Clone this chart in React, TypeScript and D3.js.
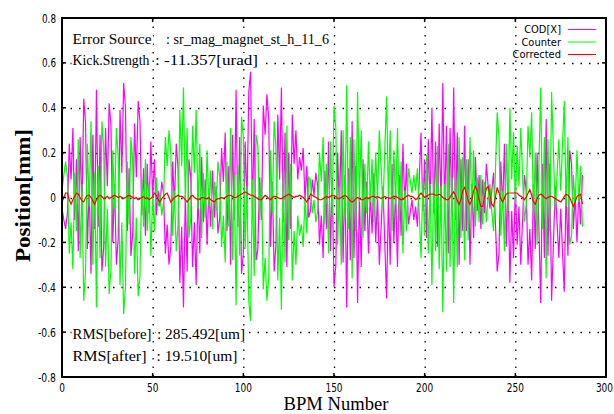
import React, { useLayoutEffect, useRef, useState } from "react";
import * as d3 from "d3";

// COD[X] before correction, one value per BPM (mm)
const codX = [
  -0.05, -0.10, -0.14, -0.07, 0.24, 0.08, 0.31, -0.10, 0.17, -0.24,
  0.27, -0.07, 0.44, 0.33, -0.23, 0.05, -0.34, 0.28, -0.14, 0.48,
  -0.13, 0.28, -0.33, -0.22, 0.31, 0.05, 0.42, 0.32, -0.20, 0.06,
  -0.30, -0.18, 0.39, 0.11, 0.51, 0.40, -0.15, 0.13, -0.26, -0.16,
  0.33, 0.09, 0.43, 0.34, -0.08, 0.13, -0.17, 0.15, -0.07, 0.25,
  0.00, 0.17, -0.08, 0.03, -0.04, 0.07, 0.02, -0.25, -0.12, -0.30,
  -0.22, 0.16, -0.03, 0.24, 0.13, -0.38, -0.13, -0.49, 0.01, -0.33,
  0.17, 0.09, -0.31, -0.11, -0.39, 0.04, -0.25, 0.18, -0.11, 0.08,
  -0.21, 0.04, -0.13, 0.12, -0.09, 0.05, -0.16, -0.09, 0.22, 0.07,
  0.29, -0.15, 0.14, -0.30, 0.28, -0.10, 0.48, -0.13, 0.27, -0.34,
  -0.25, 0.25, -0.03, 0.47, 0.56, -0.07, 0.35, -0.28, -0.23, 0.09,
  -0.10, 0.41, 0.28, 0.46, 0.35, -0.22, 0.07, -0.33, -0.21, 0.37,
  0.08, 0.49, -0.11, 0.29, -0.31, 0.20, -0.14, 0.37, 0.15, 0.30,
  0.08, 0.18, 0.12, 0.22, -0.01, 0.14, -0.09, -0.06, 0.08, 0.01,
  0.11, 0.05, -0.21, -0.08, -0.27, 0.12, -0.14, 0.25, -0.24, 0.09,
  -0.40, -0.30, 0.20, -0.05, 0.30, -0.29, 0.10, -0.49, 0.13, -0.28,
  0.34, -0.27, 0.14, -0.47, 0.01, -0.31, 0.17, -0.15, 0.07, -0.25,
  0.02, -0.16, 0.11, -0.20, 0.01, -0.30, -0.13, 0.05, -0.20, -0.45,
  0.00, -0.30, 0.15, -0.20, 0.03, -0.31, 0.10, -0.17, 0.24, -0.03,
  0.15, -0.12, -0.07, -0.01, -0.10, -0.04, -0.13, 0.08, 0.29, -0.06,
  0.17, -0.18, 0.26, -0.04, 0.40, -0.07, 0.25, -0.22, 0.33, -0.04,
  0.51, -0.06, 0.32, -0.25, 0.31, -0.07, 0.49, -0.10, 0.29, -0.30,
  0.17, -0.15, 0.32, -0.15, 0.17, -0.30, 0.06, -0.18, 0.18, -0.06,
  0.10, -0.14, 0.08, -0.07, 0.15, 0.05, -0.05, 0.03, 0.11, -0.11,
  -0.33, -0.25, 0.16, -0.05, 0.24, -0.22, 0.08, -0.38, -0.06, -0.27,
  0.05, -0.21, -0.04, -0.30, -0.10, 0.10, 0.03, -0.30, -0.14, -0.37,
  0.06, -0.23, 0.20, -0.14, -0.47, 0.15, -0.27, 0.35, -0.26, 0.15,
  -0.46, -0.21, 0.05, -0.11, -0.27, -0.05, -0.24, -0.42, 0.05, -0.26,
  0.21, 0.15, -0.14, 0.01, -0.20, 0.03, -0.12, 0.10,
];

// counter orbit from the steering correction
const counter = [
  0.03, 0.10, 0.16, 0.09, -0.25, -0.11, -0.32, 0.11, -0.15, 0.26,
  -0.27, 0.06, -0.46, -0.33, 0.24, -0.04, 0.34, -0.30, 0.11, -0.49,
  0.14, -0.27, 0.34, 0.22, -0.31, -0.05, -0.43, -0.32, 0.21, -0.05,
  0.31, 0.18, -0.39, -0.11, -0.52, -0.40, 0.16, -0.12, 0.27, 0.16,
  -0.34, -0.09, -0.44, -0.35, 0.08, -0.13, 0.17, -0.15, 0.06, -0.26,
  0.01, -0.15, 0.09, -0.04, 0.02, -0.08, -0.02, 0.27, 0.14, 0.30,
  0.20, -0.17, 0.03, -0.24, -0.12, 0.39, 0.14, 0.49, -0.02, 0.31,
  -0.18, -0.09, 0.32, 0.11, 0.39, -0.05, 0.24, -0.18, 0.11, -0.09,
  0.21, -0.04, 0.12, -0.14, 0.07, -0.06, 0.16, 0.09, -0.22, -0.08,
  -0.29, 0.16, -0.13, 0.31, -0.28, 0.10, -0.48, 0.14, -0.26, 0.36,
  0.27, -0.23, 0.05, -0.46, -0.55, 0.08, -0.35, 0.28, 0.23, -0.10,
  0.09, -0.41, -0.27, -0.46, -0.36, 0.21, -0.07, 0.34, 0.22, -0.37,
  -0.09, -0.50, 0.11, -0.29, 0.32, -0.19, 0.15, -0.37, -0.15, -0.30,
  -0.08, -0.17, -0.12, -0.22, 0.00, -0.16, 0.09, 0.08, -0.07, -0.01,
  -0.11, -0.06, 0.20, 0.07, 0.27, -0.12, 0.15, -0.25, 0.25, -0.08,
  0.41, 0.31, -0.21, 0.05, -0.30, 0.30, -0.09, 0.50, -0.14, 0.27,
  -0.36, 0.26, -0.15, 0.47, -0.02, 0.30, -0.18, 0.15, -0.07, 0.25,
  -0.02, 0.17, -0.11, 0.20, -0.01, 0.30, 0.13, -0.05, 0.21, 0.45,
  0.00, 0.30, -0.15, 0.21, -0.03, 0.31, -0.11, 0.16, -0.25, 0.03,
  -0.15, 0.13, 0.08, 0.02, 0.10, 0.03, 0.13, -0.07, -0.27, 0.07,
  -0.17, 0.19, -0.25, 0.06, -0.39, 0.09, -0.24, 0.23, -0.32, 0.05,
  -0.51, 0.06, -0.33, 0.24, -0.31, 0.09, -0.47, 0.11, -0.31, 0.27,
  -0.18, 0.18, -0.28, 0.17, -0.19, 0.27, -0.07, 0.21, -0.13, 0.09,
  -0.11, 0.10, -0.12, 0.07, -0.11, 0.00, 0.06, -0.06, -0.15, 0.11,
  0.38, 0.27, -0.17, 0.03, -0.24, 0.24, -0.06, 0.40, 0.08, 0.29,
  -0.03, 0.23, 0.05, 0.31, 0.10, -0.11, -0.03, 0.32, 0.18, 0.38,
  -0.08, 0.20, -0.21, 0.15, 0.49, -0.14, 0.27, -0.36, 0.26, -0.15,
  0.47, 0.21, -0.06, 0.10, 0.26, 0.03, 0.23, 0.43, -0.04, 0.27,
  -0.21, -0.17, 0.10, -0.03, 0.21, -0.02, 0.14, -0.13,
];

// residual orbit after correction
const corrected = [
  -0.02, 0.0, 0.02, 0.02, -0.01, -0.03, -0.01, 0.005, 0.02, 0.015,
  0.0, -0.015, -0.02, 0.0, 0.01, 0.01, 0.0, -0.015, -0.03, -0.01,
  0.005, 0.01, 0.005, -0.005, 0.0, 0.005, -0.005, 0.0, 0.005, 0.01,
  0.005, 0.0, 0.005, 0.0, -0.005, 0.0, 0.005, 0.01, 0.005, 0.0,
  -0.005, 0.0, -0.01, -0.005, 0.0, 0.005, -0.005, 0.0, -0.01, -0.005,
  0.005, 0.02, 0.01, -0.01, -0.02, -0.005, 0.005, 0.015, 0.02, 0.0,
  -0.02, -0.01, 0.0, 0.005, 0.01, 0.005, 0.005, 0.0, -0.01, -0.02,
  -0.01, 0.005, 0.01, 0.0, -0.005, -0.01, -0.01, 0.0, 0.0, -0.005,
  -0.005, 0.0, -0.01, -0.015, -0.02, -0.01, -0.005, -0.005, 0.0, -0.005,
  0.0, 0.005, 0.01, 0.01, 0.005, 0.0, 0.0, 0.005, 0.01, 0.015,
  0.02, 0.025, 0.02, 0.015, 0.01, 0.01, 0.005, 0.0, -0.005, -0.01,
  -0.01, 0.0, 0.01, 0.005, -0.005, -0.01, 0.0, 0.005, 0.005, 0.0,
  -0.005, -0.005, 0.0, 0.005, 0.01, 0.015, 0.01, 0.005, 0.0, 0.005,
  0.005, 0.01, 0.005, 0.0, -0.01, -0.02, -0.005, 0.015, 0.01, 0.005,
  0.0, -0.005, -0.01, -0.01, -0.005, 0.0, 0.005, 0.0, 0.005, 0.01,
  0.01, 0.005, -0.005, -0.005, 0.0, 0.005, 0.01, 0.005, -0.005, -0.015,
  -0.02, -0.015, -0.005, 0.0, -0.005, -0.01, -0.01, -0.005, 0.0, -0.005,
  0.0, 0.005, 0.005, 0.0, 0.005, 0.0, -0.005, 0.0, 0.005, 0.0,
  0.0, -0.005, 0.0, 0.005, 0.005, 0.0, -0.005, -0.01, -0.01, 0.0,
  0.005, 0.01, 0.005, 0.005, 0.0, -0.01, -0.005, 0.01, 0.02, 0.01,
  0.0, 0.005, 0.01, 0.015, 0.015, 0.015, 0.01, 0.01, 0.015, 0.01,
  0.0, -0.005, -0.01, -0.01, 0.0, 0.015, 0.025, 0.01, -0.015, -0.03,
  -0.01, 0.03, 0.045, 0.02, -0.015, -0.03, -0.01, 0.03, 0.05, 0.03,
  -0.01, -0.04, -0.04, 0.0, 0.04, 0.05, 0.01, -0.03, -0.04, 0.0,
  0.045, 0.02, -0.005, -0.02, 0.0, 0.015, 0.02, 0.02, 0.02, 0.02,
  0.02, 0.02, 0.01, 0.005, 0.0, -0.01, 0.0, 0.02, 0.035, 0.01,
  -0.02, -0.03, -0.005, 0.01, 0.015, 0.01, 0.0, -0.005, 0.0, 0.005,
  0.005, 0.0, -0.005, -0.01, -0.015, -0.02, -0.01, 0.005, 0.015, 0.01,
  0.0, -0.02, -0.04, -0.02, 0.005, 0.01, 0.015, -0.03,
];

const xTicks = [0, 50, 100, 150, 200, 250, 300];
const yTicks = [-0.8, -0.6, -0.4, -0.2, 0, 0.2, 0.4, 0.6, 0.8];
const seriesNames = ["COD[X]", "Counter", "Corrected"];

const infoTop = [
  ["Error Source", ": sr_mag_magnet_st_h_11_6"],
  ["Kick.Strength", ": -11.357[urad]"],
];
const infoBottom = [
  ["RMS[before]", ": 285.492[um]"],
  ["RMS[after]", ": 19.510[um]"],
];

const W = 614;
const H = 414;
const colors = ["#ff00ff", "#00ff00", "#ff0000"];
const serif = "'Liberation Serif', 'Times New Roman', serif";
const narrow = "'DejaVu Sans Condensed', 'Liberation Sans Narrow', 'DejaVu Sans', sans-serif";

// where each info text piece starts and how wide it is in the reference
const topLayout = [
  [[72.5, 79], [166, 163]],
  [[72.5, 77], [155, 103]],
];
const bottomLayout = [
  [[72.5, 79], [157, 88]],
  [[72.5, 74], [156.5, 81]],
];

// narrow bitmap-like tick font: squeeze each label to the reference width
const tickLen = (s) => {
  let w = 0;
  for (const c of s) w += c === "." ? 2.6 : c === "-" ? 4 : 5.7;
  return w;
};

// text with an opaque white box behind it (hides the grid dots)
const BoxText = ({ x, y, text, size, len }) => {
  const ref = useRef(null);
  const [bb, setBb] = useState(null);
  useLayoutEffect(() => {
    if (ref.current) {
      const b = ref.current.getBBox();
      setBb({ x: b.x, y: b.y, w: b.width, h: b.height });
    }
  }, [text]);
  return (
    <g>
      {bb && <rect x={bb.x - 1} y={bb.y + 1} width={bb.w + 2} height={bb.h - 1} fill="#fff" />}
      <text
        ref={ref}
        x={x}
        y={y}
        fontFamily={serif}
        fontSize={size}
        fill="#000"
        textLength={len}
        lengthAdjust="spacingAndGlyphs"
      >
        {text}
      </text>
    </g>
  );
};

export default function App() {
  const x = d3.scaleLinear().domain([0, 300]).range([62, 606]);
  const y = d3.scaleLinear().domain([-0.8, 0.8]).range([377, 18]);
  const [x0, x1] = x.range();
  const [y0, y1] = y.range();

  const line = d3
    .line<number>()
    .x((d, i) => x(i))
    .y((d) => y(d));

  const series = [codX, counter, corrected];
  const yLabel = (t) => (t === 0 ? "0" : t.toFixed(1));

  return (
    <svg
      width={W}
      height={H}
      style={{ position: "absolute", left: 0, top: 0, background: "#fff" }}
    >
      <rect x={0} y={0} width={W} height={H} fill="#fff" />

      {/* grid */}
      <g stroke="#000" strokeWidth={1.3} strokeDasharray="1.5,7">
        {xTicks.slice(1, -1).map((t) => (
          <line key={"gx" + t} x1={x(t) + 0.5} x2={x(t) + 0.5} y1={y1} y2={y0} />
        ))}
        {yTicks.slice(1, -1).map((t) => (
          <line key={"gy" + t} x1={x0} x2={x1} y1={Math.round(y(t)) + 0.5} y2={Math.round(y(t)) + 0.5} />
        ))}
      </g>

      {/* info text */}
      {infoTop.map((row, i) => (
        <g key={"it" + i}>
          {row.map((s, j) => (
            <BoxText key={j} x={topLayout[i][j][0]} y={44 + i * 21} text={s} size={15} len={topLayout[i][j][1]} />
          ))}
        </g>
      ))}
      {infoBottom.map((row, i) => (
        <g key={"ib" + i}>
          {row.map((s, j) => (
            <BoxText key={j} x={bottomLayout[i][j][0]} y={339 + i * 22} text={s} size={15} len={bottomLayout[i][j][1]} />
          ))}
        </g>
      ))}

      {/* data */}
      {series.map((s, k) => (
        <path key={"s" + k} d={line(s)} fill="none" stroke={colors[k]} strokeWidth={1.2} />
      ))}

      {/* tick marks */}
      <g stroke="#000" strokeWidth={1.5}>
        {xTicks.map((t) => (
          <g key={"tx" + t}>
            <line x1={x(t)} x2={x(t)} y1={y0} y2={y0 - 4} />
            <line x1={x(t)} x2={x(t)} y1={y1} y2={y1 + 4} />
          </g>
        ))}
        {yTicks.map((t) => (
          <g key={"ty" + t}>
            <line x1={x0} x2={x0 + 4} y1={y(t)} y2={y(t)} />
            <line x1={x1} x2={x1 - 4} y1={y(t)} y2={y(t)} />
          </g>
        ))}
      </g>

      {/* frame */}
      <rect x={x0} y={y1} width={x1 - x0} height={y0 - y1} fill="none" stroke="#000" strokeWidth={2} />

      {/* tick labels */}
      <g fontFamily={narrow} fontSize={13} fill="#000">
        {yTicks.map((t) => (
          <text
            key={"ly" + t}
            x={56}
            y={y(t) + 4.5}
            textAnchor="end"
            textLength={tickLen(yLabel(t))}
            lengthAdjust="spacingAndGlyphs"
          >
            {yLabel(t)}
          </text>
        ))}
        {xTicks.map((t) => {
          const len = tickLen(String(t));
          // keep the last label inside the window
          const cx = Math.min(x(t), W - 1 - len / 2);
          return (
            <text
              key={"lx" + t}
              x={cx}
              y={392}
              textAnchor="middle"
              textLength={len}
              lengthAdjust="spacingAndGlyphs"
            >
              {t}
            </text>
          );
        })}
      </g>

      {/* axis titles */}
      <text
        x={336}
        y={410}
        textAnchor="middle"
        fontFamily={serif}
        fontSize={18}
        fill="#000"
        textLength={105}
        lengthAdjust="spacingAndGlyphs"
      >
        BPM Number
      </text>
      <text
        transform={`translate(30, ${(y0 + y1) / 2 - 2}) rotate(-90)`}
        textAnchor="middle"
        fontFamily={serif}
        fontWeight="bold"
        fontSize={22}
        fill="#000"
        textLength={133}
        lengthAdjust="spacingAndGlyphs"
      >
        Position[mm]
      </text>

      {/* legend */}
      <g fontFamily={narrow} fontSize={11} fill="#000">
        {seriesNames.map((name, i) => (
          <g key={"lg" + i}>
            <text x={561} y={33 + i * 12.5} textAnchor="end">
              {name}
            </text>
            <line x1={568} x2={596} y1={29.5 + i * 12.5} y2={29.5 + i * 12.5} stroke={colors[i]} strokeWidth={1} />
          </g>
        ))}
      </g>
    </svg>
  );
}
